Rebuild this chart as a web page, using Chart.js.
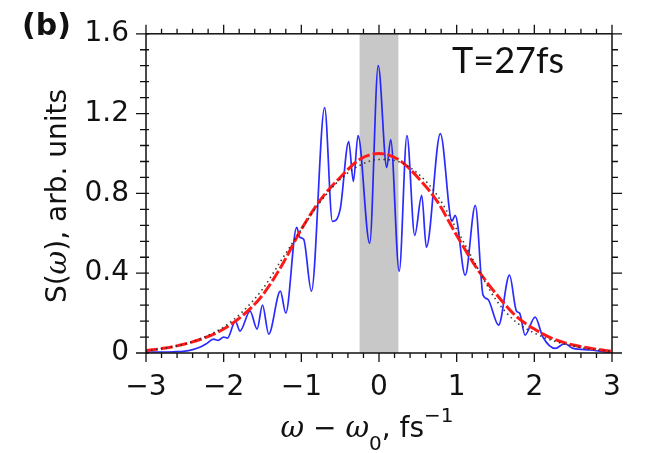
<!DOCTYPE html>
<html>
<head>
<meta charset="utf-8">
<script src="https://cdn.jsdelivr.net/npm/chart.js@4.4.0/dist/chart.umd.min.js"></script>
<style>html,body{margin:0;padding:0;background:#fff;}</style>
</head>
<body>
<canvas id="graph" width="657" height="453"></canvas>
<script>
var blueX = [-3.00, -2.80, -2.65, -2.45, -2.30, -2.22, -2.13, -2.07, -2.00, -1.95, -1.85, -1.79, -1.66, -1.57,
             -1.50, -1.42, -1.27, -1.20, -1.06, -1.02, -0.97, -0.87, -0.70, -0.60, -0.50, -0.39, -0.33, -0.27,
             -0.12, -0.01, 0.10, 0.15, 0.26, 0.36, 0.46, 0.55, 0.61, 0.79, 0.94, 0.98, 1.11, 1.24, 1.34, 1.40,
             1.54, 1.68, 1.77, 1.81, 1.88, 2.01, 2.11, 2.27, 2.39, 2.50, 2.72, 3.00];
var blueY = [0.005, 0.005, 0.006, 0.012, 0.03, 0.047, 0.07, 0.063, 0.08, 0.075, 0.16, 0.11, 0.21, 0.12,
             0.24, 0.095, 0.31, 0.20, 0.63, 0.58, 0.57, 0.31, 1.23, 0.66, 0.72, 1.06, 0.86, 1.09,
             0.55, 1.44, 0.93, 1.07, 0.41, 1.09, 0.59, 0.79, 0.53, 1.10, 0.66, 0.69, 0.39, 0.74, 0.29, 0.27,
             0.14, 0.39, 0.21, 0.20, 0.09, 0.18, 0.08, 0.023, 0.047, 0.023, 0.015, 0.0];

// red dashed and black dotted envelopes
var envX = [-3, -2.75, -2.5, -2.25, -2, -1.75, -1.5, -1.25, -1, -0.75, -0.5, -0.25, 0,
            0.25, 0.5, 0.75, 1, 1.25, 1.5, 1.75, 2, 2.25, 2.5, 2.75, 3];
var redY = [0.012, 0.025, 0.045, 0.075, 0.12, 0.19, 0.29, 0.44, 0.62, 0.77, 0.88, 0.97, 1.0,
            0.97, 0.88, 0.76, 0.59, 0.43, 0.30, 0.19, 0.12, 0.07, 0.04, 0.022, 0.008];
var blackY = [0.01, 0.025, 0.045, 0.08, 0.13, 0.21, 0.32, 0.47, 0.62, 0.76, 0.87, 0.94, 0.97,
              0.96, 0.90, 0.79, 0.62, 0.44, 0.27, 0.16, 0.10, 0.06, 0.035, 0.018, 0.008];

var band = [-0.25, 0.25];
var xTicks = [-3, -2, -1, 0, 1, 2, 3];
var yTicks = [0, 0.4, 0.8, 1.2, 1.6];

function pts(xs, ys) {
  return xs.map(function (v, i) { return { x: v, y: ys[i] }; });
}

var tickFont = { family: 'DejaVu Sans', size: 28 };

var framePlugin = {
  id: 'frame',
  beforeDatasetsDraw: function (chart) {
    var sx = chart.scales.x, a = chart.chartArea, ctx = chart.ctx;
    var x0 = sx.getPixelForValue(band[0]), x1 = sx.getPixelForValue(band[1]);
    ctx.save();
    ctx.fillStyle = '#c8c8c8';
    ctx.fillRect(x0, a.top, x1 - x0, a.bottom - a.top);
    ctx.restore();
  },
  afterDraw: function (chart) {
    var sx = chart.scales.x, sy = chart.scales.y, a = chart.chartArea, ctx = chart.ctx;
    ctx.save();
    ctx.strokeStyle = '#111';
    ctx.lineWidth = 1.5;
    ctx.strokeRect(a.left, a.top, a.right - a.left, a.bottom - a.top);
    ctx.lineWidth = 1.3;
    ctx.beginPath();
    // x ticks, every 0.2, outward
    for (var k = 0; k <= 30; k++) {
      var px = sx.getPixelForValue(-3 + k * 0.2);
      var len = (k % 5 === 0) ? 9 : 5;
      ctx.moveTo(px, a.bottom); ctx.lineTo(px, a.bottom + len);
      ctx.moveTo(px, a.top); ctx.lineTo(px, a.top - len);
    }
    // y ticks, every 0.08
    for (var j = 0; j <= 20; j++) {
      var py = sy.getPixelForValue(j * 0.08);
      var l2 = (j % 5 === 0) ? 10 : 6;
      ctx.moveTo(a.left - l2, py); ctx.lineTo(a.left + 3, py);
      ctx.moveTo(a.right, py); ctx.lineTo(a.right + l2, py);
    }
    ctx.stroke();

    ctx.fillStyle = '#111';
    ctx.textBaseline = 'alphabetic';
    // panel letter
    ctx.font = 'bold 30px "DejaVu Sans"';
    ctx.textAlign = 'left';
    ctx.fillText('(b)', 22, 35);

    // T=27fs
    ctx.font = '36px Lato';
    ctx.fillText('T=27fs', 452, 73);

    // x title: ω − ω0, fs^-1
    var parts = [
      ['ω', 'italic 29px "DejaVu Serif"', 0],
      [' \u2212 ', '28px "DejaVu Sans"', 0],
      ['ω', 'italic 29px "DejaVu Serif"', 0],
      ['0', '20px "DejaVu Sans"', 13],
      [', fs', '28px "DejaVu Sans"', 0],
      ['\u22121', '20px "DejaVu Sans"', -15]
    ];
    var total = 0;
    parts.forEach(function (p) { ctx.font = p[1]; total += ctx.measureText(p[0]).width; });
    var cx = 367 - total / 2;
    parts.forEach(function (p) {
      ctx.font = p[1];
      ctx.fillText(p[0], cx, 437 + p[2]);
      cx += ctx.measureText(p[0]).width;
    });

    // y title: S(ω), arb. units
    var yp = [
      ['S(', '28px "DejaVu Sans"'],
      ['ω', 'italic 29px "DejaVu Serif"'],
      ['), arb. units', '28px "DejaVu Sans"']
    ];
    var tw = 0;
    yp.forEach(function (p) { ctx.font = p[1]; tw += ctx.measureText(p[0]).width; });
    ctx.translate(66, 196);
    ctx.rotate(-Math.PI / 2);
    var cy = -tw / 2;
    yp.forEach(function (p) {
      ctx.font = p[1];
      ctx.fillText(p[0], cy, 0);
      cy += ctx.measureText(p[0]).width;
    });
    ctx.restore();
  }
};

var config = {
  type: 'line',
  data: {
    datasets: [
      {
        label: 'black', data: pts(envX, blackY), borderColor: 'rgba(40,40,40,0.9)', borderWidth: 1.6,
        borderDash: [1.5, 3.5], pointRadius: 0, cubicInterpolationMode: 'monotone', order: 1
      },
      {
        label: 'red', data: pts(envX, redY), borderColor: '#ff1a1a', borderWidth: 3,
        borderDash: [12, 3], pointRadius: 0, cubicInterpolationMode: 'monotone', order: 2
      },
      {
        label: 'blue', data: pts(blueX, blueY), borderColor: 'rgba(20,20,255,0.9)', borderWidth: 1.7,
        pointRadius: 0, cubicInterpolationMode: 'monotone', order: 3
      }
    ]
  },
  options: {
    responsive: false,
    animation: false,
    layout: { padding: { left: 0, right: 45, top: 23, bottom: 0 } },
    plugins: { legend: { display: false }, tooltip: { enabled: false } },
    scales: {
      x: {
        type: 'linear', min: -3, max: 3,
        afterBuildTicks: function (s) { s.ticks = xTicks.map(function (v) { return { value: v }; }); },
        afterFit: function (s) { s.height = 100; },
        grid: { display: false, drawTicks: false },
        border: { display: false },
        ticks: {
          font: tickFont, color: '#111', padding: 18, maxRotation: 0, autoSkip: false,
          callback: function (v) { return v < 0 ? '\u2212' + Math.abs(v) : String(v); }
        }
      },
      y: {
        type: 'linear', min: 0, max: 1.6,
        afterBuildTicks: function (s) { s.ticks = yTicks.map(function (v) { return { value: v }; }); },
        afterFit: function (s) { s.width = 146; },
        grid: { display: false, drawTicks: false },
        border: { display: false },
        ticks: {
          font: tickFont, color: '#111', padding: 17, autoSkip: false,
          callback: function (v) { return v === 0 ? '0' : v.toFixed(1); }
        }
      }
    }
  },
  plugins: [framePlugin]
};

window.onload = function () {
  new Chart(document.getElementById('graph').getContext('2d'), config);
};
</script>
</body>
</html>
